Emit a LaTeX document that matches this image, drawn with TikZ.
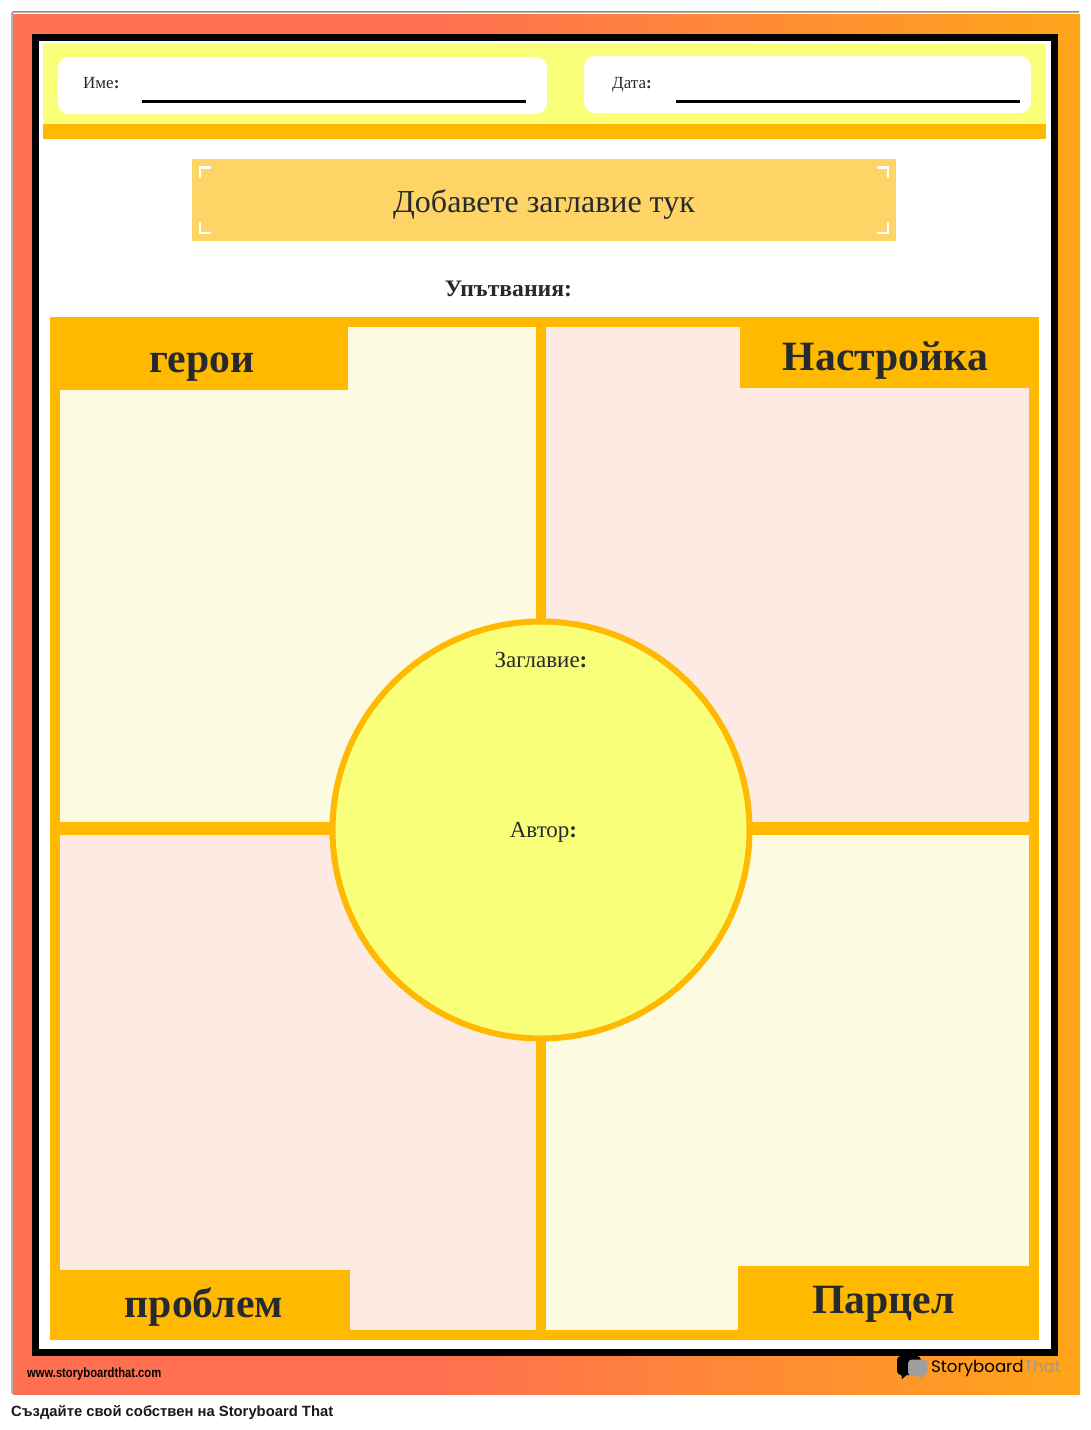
\documentclass[tikz,border=0pt]{standalone}
\usepackage{fontspec}
\setmainfont{Liberation Serif}
\newfontfamily\capfont{Liberation Sans}
\newfontfamily\logofont{Poppins}
\usetikzlibrary{shadings}
\definecolor{tomatoc}{HTML}{FF7050}
\definecolor{amberc}{HTML}{FFA51A}
\definecolor{goldc}{HTML}{FFB900}
\definecolor{lemonc}{HTML}{F9FF78}
\definecolor{titlec}{HTML}{FFD466}
\definecolor{paleyc}{HTML}{FCFAE1}
\definecolor{palerc}{HTML}{FDEAE3}
\definecolor{inkc}{HTML}{262A2E}
\pgfdeclarehorizontalshading{framegrad}{100bp}{color(0bp)=(tomatoc); color(45bp)=(tomatoc); color(75bp)=(amberc); color(100bp)=(amberc)}
\newcommand{\boldcolon}{{\bfseries:}}
\tikzset{
  smalllabel/.style={text=inkc,font=\fontsize{17}{20}\selectfont,inner sep=0pt,anchor=base west},
  boxlabel/.style={text=inkc,font=\fontsize{32}{38}\selectfont,inner sep=0pt,anchor=base},
  midlabel/.style={text=inkc,font=\fontsize{23}{27}\selectfont,inner sep=0pt,anchor=base},
  headlabel/.style={text=inkc,font=\fontsize{41.7}{50}\selectfont\bfseries,inner sep=0pt,anchor=base},
  ruleline/.style={black,line width=3pt},
  cornermark/.style={white,line width=2.6pt},
}
\begin{document}
\begin{tikzpicture}[x=1pt,y=-1pt]
\useasboundingbox (0,0) rectangle (1091,1430);
\fill[white] (0,0) rectangle (1091,1430);
% outer frame
\draw[gray!90,line width=1.4pt,rounded corners=2pt] (12,1393.5) -- (12,11.8) -- (1079,11.8);
\shade[shading=framegrad] (13,14) rectangle (1080,1394);
\fill[black] (32,34) rectangle (1058,1356);
\fill[white] (39,41) rectangle (1051,1349);
% header band
\fill[lemonc] (43,44) rectangle (1046,124);
\fill[goldc] (43,124) rectangle (1046,139);
\fill[white,rounded corners=11pt] (58,57) rectangle (547,114);
\fill[white,rounded corners=11pt] (584,56) rectangle (1031,113);
\node[smalllabel] (namelabel) at (83,88) {Име\boldcolon};
\node[smalllabel] (datelabel) at (612,88) {Дата\boldcolon};
\coordinate (nameA) at (142,101.5); \coordinate (nameB) at (526,101.5);
\coordinate (dateA) at (676,101.5); \coordinate (dateB) at (1020,101.5);
\draw[ruleline] (nameA) -- (nameB);
\draw[ruleline] (dateA) -- (dateB);
% title
\fill[titlec] (192,159) rectangle (896,241);
\draw[cornermark] (200,178) -- (200,167.5) -- (211,167.5);
\draw[cornermark] (877,167.5) -- (888,167.5) -- (888,178);
\draw[cornermark] (200,222) -- (200,233) -- (211,233);
\draw[cornermark] (877,233) -- (888,233) -- (888,222);
\node[boxlabel] (titletext) at (544,212.5) {Добавете заглавие тук};
\node[midlabel,font=\fontsize{23.7}{27}\selectfont\bfseries] (prompts) at (508.5,296) {Упътвания:};
% grid
\fill[goldc] (50,317) rectangle (1039,1340);
\fill[paleyc] (60,327) rectangle (536,822);
\fill[palerc] (546,327) rectangle (1029,822);
\fill[palerc] (60,835) rectangle (536,1330);
\fill[paleyc] (546,835) rectangle (1029,1330);
\fill[goldc] (50,317) rectangle (348,390);
\fill[goldc] (740,317) rectangle (1039,388);
\fill[goldc] (50,1270) rectangle (350,1340);
\fill[goldc] (738,1266) rectangle (1039,1340);
\node[headlabel] (heroes) at (202,372.5) {герои};
\node[headlabel] (setting) at (885.5,370.5) {Настройка};
\node[headlabel] (problem) at (204,1317.5) {проблем};
\node[headlabel] (plot) at (883.5,1313.5) {Парцел};
% circle
\filldraw[fill=lemonc,draw=goldc,line width=6pt] (541,830) circle (208.5);
\node[midlabel] (booktitle) at (541,667) {Заглавие\boldcolon};
\node[midlabel] (author) at (543.5,837) {Автор\boldcolon};
% footer
\node[inner sep=0pt,anchor=base west,font=\capfont\bfseries\fontsize{13.5}{15}\selectfont,xscale=0.83,text=black] (site) at (27,1377) {www.storyboardthat.com};
\fill[black,rounded corners=4pt] (897,1356) rectangle (921,1375);
\fill[black] (901,1373) -- (902,1379) -- (909,1373) -- cycle;
\fill[gray!75,rounded corners=4pt] (908,1359.5) rectangle (927,1376);
\fill[gray!75] (916,1375) -- (922,1379) -- (923,1375) -- cycle;
\node[inner sep=0pt,anchor=base west,font=\logofont\fontsize{16.6}{20}\selectfont,text=black] (logoA) at (931,1372) {Storyboard};
\node[inner sep=0pt,anchor=base west,font=\logofont\fontsize{16.6}{20}\selectfont,text=gray!80] (logoB) at (logoA.base east) {That};
\node[inner sep=0pt,anchor=base west,font=\capfont\bfseries\fontsize{14.8}{18}\selectfont,text=black!90] (caption) at (11,1416.5) {Създайте свой собствен на Storyboard That};
\end{tikzpicture}
\end{document}
